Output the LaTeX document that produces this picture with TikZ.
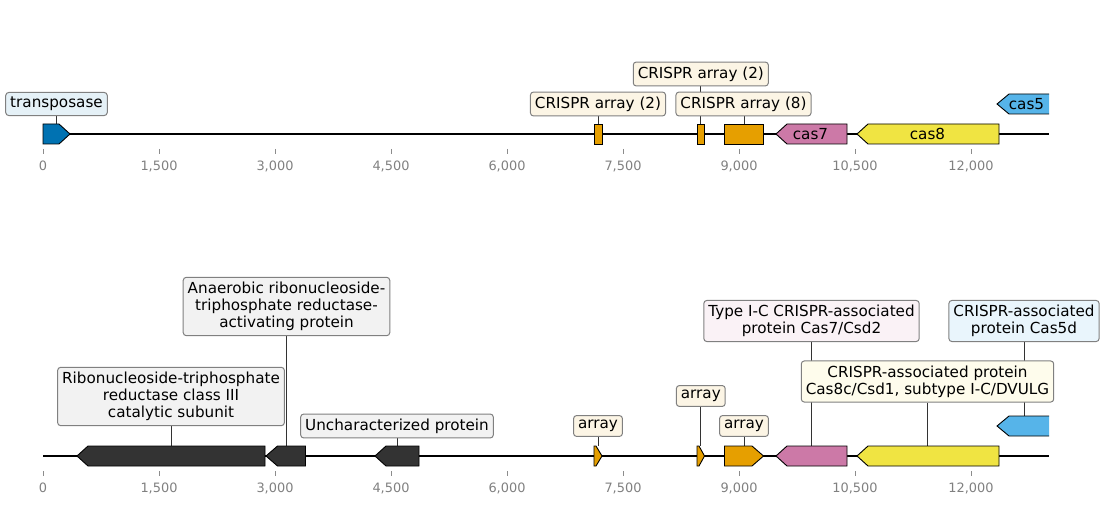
\documentclass[tikz,border=0pt]{standalone}
\usepackage{fontspec}
\setmainfont{DejaVu Sans}
\usetikzlibrary{backgrounds}

\definecolor{tnpblue}{HTML}{0072B2}
\definecolor{arrayorange}{HTML}{E69F00}
\definecolor{cassevenpink}{HTML}{CC79A7}
\definecolor{caseightyellow}{HTML}{F0E442}
\definecolor{casfiveblue}{HTML}{56B4E9}
\definecolor{darkgene}{HTML}{333333}

\tikzset{
  track/.style={black, line width=1.5pt},
  gene/.style={draw=black, line width=0.9pt, line join=miter},
  genetext/.style={font=\fontsize{15.2}{18}\selectfont, inner sep=0pt},
  labelbox/.style={draw=black!50, line width=1pt, rounded corners=3pt, align=center,
    inner xsep=4.5pt, inner ysep=4.6pt, font=\fontsize{15.2}{17.2}\selectfont},
  leader/.style={black!80, line width=0.7pt},
  tickmark/.style={black!45, line width=0.8pt},
  ticklabel/.style={text=black!50, font=\fontsize{12.9}{15}\selectfont, inner sep=0pt}
}

\begin{document}
\begin{tikzpicture}[x=1pt,y=-1pt]
    \useasboundingbox (0,0) rectangle (1105,505);

    % top track
    \draw[track] (43,134) -- (1049,134);
    \filldraw[gene, fill=tnpblue] (43,124) -- (59,124) -- (70,134) -- (59,144) -- (43,144) -- cycle;
    \filldraw[gene, fill=arrayorange] (594,124) rectangle (602,144);
    \filldraw[gene, fill=arrayorange] (697,124) rectangle (704.5,144);
    \filldraw[gene, fill=arrayorange] (724.5,124) rectangle (763.5,144);
    \filldraw[gene, fill=cassevenpink] (776,134) -- (787,124) -- (847,124) -- (847,144) -- (787,144) -- cycle;
    \filldraw[gene, fill=caseightyellow] (857,134) -- (868,124) -- (999,124) -- (999,144) -- (868,144) -- cycle;
    \fill[casfiveblue] (1049,94) -- (1009,94) -- (997,104) -- (1009,114) -- (1049,114) -- cycle;
    \draw[gene] (1049,94) -- (1009,94) -- (997,104) -- (1009,114) -- (1049,114);
    \node[genetext] (casseven) at (810.5,134) {cas7};
    \node[genetext] (caseight) at (927.5,134) {cas8};
    \node[genetext] (casfive) at (1026.5,104) {cas5};

    \coordinate (tnp) at (56.5,124);
    \coordinate (arrA) at (598,124);
    \coordinate (arrB) at (700.8,124);
    \coordinate (arrC) at (744,124);

    \node[labelbox, fill=tnpblue!10!white] (tnpL) at (56.5,104) {transposase};
    \node[labelbox, fill=arrayorange!10!white] (arrAL) at (598,104) {CRISPR array (2)};
    \node[labelbox, fill=arrayorange!10!white] (arrBL) at (700.8,74) {CRISPR array (2)};
    \node[labelbox, fill=arrayorange!10!white] (arrCL) at (743.5,104) {CRISPR array (8)};

    % top axis
    \draw[tickmark] (43,149) -- (43,154);   \node[ticklabel] (ta0) at (43,166) {0};
    \draw[tickmark] (159,149) -- (159,154); \node[ticklabel] (ta1) at (159,166) {1,500};
    \draw[tickmark] (275,149) -- (275,154); \node[ticklabel] (ta2) at (275,166) {3,000};
    \draw[tickmark] (391,149) -- (391,154); \node[ticklabel] (ta3) at (391,166) {4,500};
    \draw[tickmark] (507,149) -- (507,154); \node[ticklabel] (ta4) at (507,166) {6,000};
    \draw[tickmark] (623,149) -- (623,154); \node[ticklabel] (ta5) at (623,166) {7,500};
    \draw[tickmark] (739,149) -- (739,154); \node[ticklabel] (ta6) at (739,166) {9,000};
    \draw[tickmark] (855,149) -- (855,154); \node[ticklabel] (ta7) at (855,166) {10,500};
    \draw[tickmark] (971,149) -- (971,154); \node[ticklabel] (ta8) at (971,166) {12,000};

    % bottom track
    \draw[track] (43,456) -- (1049,456);
    \filldraw[gene, fill=darkgene] (77,456) -- (88,446) -- (265,446) -- (265,466) -- (88,466) -- cycle;
    \filldraw[gene, fill=darkgene] (266,456) -- (277.5,446) -- (305.5,446) -- (305.5,466) -- (277.5,466) -- cycle;
    \filldraw[gene, fill=darkgene] (375,456) -- (386,446) -- (419,446) -- (419,466) -- (386,466) -- cycle;
    \filldraw[gene, fill=arrayorange] (594,446) -- (596,446) -- (602,456) -- (596,466) -- (594,466) -- cycle;
    \filldraw[gene, fill=arrayorange] (697,446) -- (699,446) -- (704.5,456) -- (699,466) -- (697,466) -- cycle;
    \filldraw[gene, fill=arrayorange] (724.5,446) -- (752,446) -- (763.5,456) -- (752,466) -- (724.5,466) -- cycle;
    \filldraw[gene, fill=cassevenpink] (776,456) -- (787,446) -- (847,446) -- (847,466) -- (787,466) -- cycle;
    \filldraw[gene, fill=caseightyellow] (857,456) -- (868,446) -- (999,446) -- (999,466) -- (868,466) -- cycle;
    \fill[casfiveblue] (1049,416) -- (1009,416) -- (997,426) -- (1009,436) -- (1049,436) -- cycle;
    \draw[gene] (1049,416) -- (1009,416) -- (997,426) -- (1009,436) -- (1049,436);

    \coordinate (nrdD) at (171,446);
    \coordinate (nrdG) at (286.5,446);
    \coordinate (unch) at (397.5,446);
    \coordinate (arrD) at (598,446);
    \coordinate (arrE) at (700.8,446);
    \coordinate (arrF) at (744,446);
    \coordinate (csdseven) at (811.5,446);
    \coordinate (csdeight) at (927.5,446);
    \coordinate (csdfive) at (1024,416);

    \node[labelbox, fill=black!5] (nrdDL) at (171,396.5) {Ribonucleoside-triphosphate\\reductase class III\\catalytic subunit};
    \node[labelbox, fill=black!5] (nrdGL) at (286.5,306.5) {Anaerobic ribonucleoside-\\triphosphate reductase-\\activating protein};
    \node[labelbox, fill=black!5] (unchL) at (397,426) {Uncharacterized protein};
    \node[labelbox, fill=arrayorange!10!white] (arrDL) at (598,426) {array};
    \node[labelbox, fill=arrayorange!10!white] (arrEL) at (700.8,396) {array};
    \node[labelbox, fill=arrayorange!10!white] (arrFL) at (744,426) {array};
    \node[labelbox, fill=cassevenpink!10!white] (csdsevenL) at (811.5,321) {Type I-C CRISPR-associated\\protein Cas7/Csd2};
    \node[labelbox, fill=caseightyellow!10!white] (csdeightL) at (927.5,381.5) {CRISPR-associated protein\\Cas8c/Csd1, subtype I-C/DVULG};
    \node[labelbox, fill=casfiveblue!13!white] (csdfiveL) at (1024,321) {CRISPR-associated\\protein Cas5d};

    % bottom axis
    \draw[tickmark] (43,471) -- (43,476);   \node[ticklabel] (tb0) at (43,488) {0};
    \draw[tickmark] (159,471) -- (159,476); \node[ticklabel] (tb1) at (159,488) {1,500};
    \draw[tickmark] (275,471) -- (275,476); \node[ticklabel] (tb2) at (275,488) {3,000};
    \draw[tickmark] (391,471) -- (391,476); \node[ticklabel] (tb3) at (391,488) {4,500};
    \draw[tickmark] (507,471) -- (507,476); \node[ticklabel] (tb4) at (507,488) {6,000};
    \draw[tickmark] (623,471) -- (623,476); \node[ticklabel] (tb5) at (623,488) {7,500};
    \draw[tickmark] (739,471) -- (739,476); \node[ticklabel] (tb6) at (739,488) {9,000};
    \draw[tickmark] (855,471) -- (855,476); \node[ticklabel] (tb7) at (855,488) {10,500};
    \draw[tickmark] (971,471) -- (971,476); \node[ticklabel] (tb8) at (971,488) {12,000};

    % leader lines, behind the boxes
    \begin{scope}[on background layer]
        \draw[leader] (tnpL.south) -- (tnp);
        \draw[leader] (arrAL.south) -- (arrA);
        \draw[leader] (arrBL.south) -- (arrB);
        \draw[leader] (arrCL.south -| arrC) -- (arrC);
        \draw[leader] (nrdDL.south) -- (nrdD);
        \draw[leader] (nrdGL.south) -- (nrdG);
        \draw[leader] (unchL.south -| unch) -- (unch);
        \draw[leader] (arrDL.south) -- (arrD);
        \draw[leader] (arrEL.south) -- (arrE);
        \draw[leader] (arrFL.south) -- (arrF);
        \draw[leader] (csdsevenL.south) -- (csdseven);
        \draw[leader] (csdeightL.south) -- (csdeight);
        \draw[leader] (csdfiveL.south) -- (csdfive);
    \end{scope}
\end{tikzpicture}
\end{document}
